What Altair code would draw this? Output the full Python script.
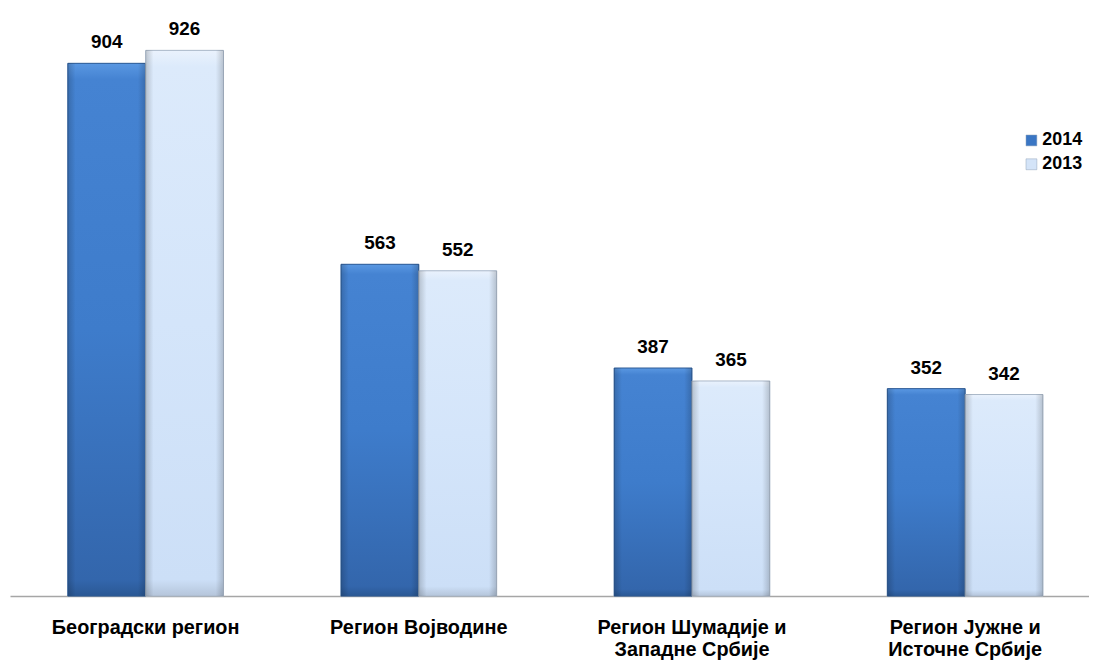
import altair as alt
import pandas as pd

regions = [
    "Београдски регион",
    "Регион Војводине",
    "Регион Шумадије и Западне Србије",
    "Регион Јужне и Источне Србије",
]
years = ["2014", "2013"]
v2014 = [904, 563, 387, 352]
v2013 = [926, 552, 365, 342]

rows = []
for r, a, b in zip(regions, v2014, v2013):
    rows.append({"region": r, "year": "2014", "value": a})
    rows.append({"region": r, "year": "2013", "value": b})
df = pd.DataFrame(rows)

label_expr = (
    "datum.label == 'Регион Шумадије и Западне Србије' ? ['Регион Шумадије и', 'Западне Србије'] : "
    "datum.label == 'Регион Јужне и Источне Србије' ? ['Регион Јужне и', 'Источне Србије'] : datum.label"
)

FONT = "Liberation Sans"

x = alt.X(
    "region:N",
    sort=regions,
    scale=alt.Scale(paddingInner=0.43, paddingOuter=0.19, align=0.557),
    axis=alt.Axis(
        title=None, labelAngle=0, ticks=False, domainColor="#A6A6A6", domainWidth=1.5,
        labelFont=FONT, labelFontWeight="bold", labelFontSize=20, labelColor="black",
        labelPadding=22, labelLineHeight=22, labelBaseline="top", labelExpr=label_expr,
        labelLimit=0,
    ),
)
xo = alt.XOffset("year:N", sort=years, scale=alt.Scale(paddingInner=0, paddingOuter=0))
y = alt.Y("value:Q", scale=alt.Scale(domain=[0, 950]), axis=None)

base = alt.Chart(df).encode(x=x, xOffset=xo, y=y)

solid = base.mark_bar().encode(
    color=alt.Color(
        "year:N",
        scale=alt.Scale(domain=years, range=["#3A76C4", "#D4E4F8"]),
        legend=alt.Legend(
            orient="none", legendX=1020, legendY=96, title=None, symbolType="square",
            symbolSize=120, symbolStrokeColor="#8FA2B8", symbolStrokeWidth=0.5,
            labelFont=FONT, labelFontWeight="bold", labelFontSize=18, labelColor="black",
            rowPadding=6, labelOffset=2,
        ),
    )
)

g14 = alt.Gradient(
    gradient="linear", x1=0, x2=0, y1=0, y2=1,
    stops=[
        alt.GradientStop(color="#5A98E2", offset=0),
        alt.GradientStop(color="#4583D2", offset=0.03),
        alt.GradientStop(color="#3E7CCB", offset=0.5),
        alt.GradientStop(color="#3366AC", offset=0.97),
        alt.GradientStop(color="#2A5894", offset=1),
    ],
)
g13 = alt.Gradient(
    gradient="linear", x1=0, x2=0, y1=0, y2=1,
    stops=[
        alt.GradientStop(color="#EAF2FD", offset=0),
        alt.GradientStop(color="#DCEAFB", offset=0.03),
        alt.GradientStop(color="#D4E5FA", offset=0.5),
        alt.GradientStop(color="#CCDFF7", offset=0.97),
        alt.GradientStop(color="#B5C5DA", offset=1),
    ],
)
edge = alt.Gradient(
    gradient="linear", x1=0, x2=1, y1=0, y2=0,
    stops=[
        alt.GradientStop(color="rgba(0,0,0,0.18)", offset=0),
        alt.GradientStop(color="rgba(0,0,0,0)", offset=0.1),
        alt.GradientStop(color="rgba(0,0,0,0)", offset=0.9),
        alt.GradientStop(color="rgba(0,0,0,0.18)", offset=1),
    ],
)

bars14 = base.transform_filter("datum.year == '2014'").mark_bar(
    color=g14, stroke="#2E5C95", strokeWidth=1
)
bars13 = base.transform_filter("datum.year == '2013'").mark_bar(
    color=g13, stroke="#A9B7C9", strokeWidth=1
)
edges = base.mark_bar(color=edge)

text = base.mark_text(
    dy=-11, baseline="bottom", font=FONT, fontWeight="bold", fontSize=19, color="black"
).encode(text="value:Q")

chart = (
    alt.layer(solid, bars14, bars13, edges, text)
    .properties(
        width=1087, height=564,
        autosize=alt.AutoSizeParams(type="none"),
        padding={"left": 2, "top": 26, "right": 0, "bottom": 66},
        background="white",
    )
    .configure_view(stroke=None)
)

chart.save("out.html", embed_options={"renderer": "svg", "actions": False})
